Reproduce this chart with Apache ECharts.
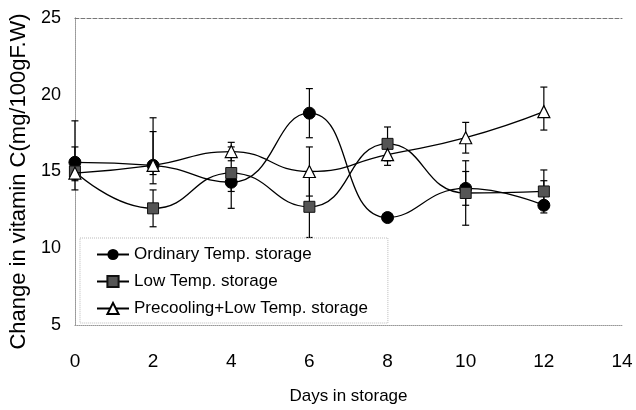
<!DOCTYPE html>
<html>
  <head>
    <meta charset="utf-8" />
    <title>Vitamin C</title>
    <script src="https://cdn.jsdelivr.net/npm/echarts@6/dist/echarts.min.js"></script>
    <style>
      html, body { margin: 0; padding: 0; background: #fff; }
    </style>
  </head>
  <body>
    <div id="main" style="width: 636px; height: 410px"></div>
    <script type="text/javascript">
      // values
      var days = [0, 2, 4, 6, 8, 10, 12];
      var ordinary = [15.6, 15.4, 14.3, 18.8, 12.0, 13.9, 12.8];
      var lowTemp = [15.0, 12.6, 14.9, 12.7, 16.8, 13.6, 13.7];
      var precool = [14.9, 15.4, 16.3, 15.0, 16.1, 17.2, 18.9];

      // error bar ends (low / high)
      var ordinaryLo = [14.4, 14.8, 13.7, 17.2, 11.8, 12.8, 12.6];
      var ordinaryHi = [16.6, 17.6, 14.9, 20.4, 12.2, 15.0, 14.4];
      var lowTempLo = [13.8, 11.4, 12.6, 10.7, 15.7, 11.5, 12.3];
      var lowTempHi = [18.3, 13.8, 16.6, 14.7, 17.9, 15.7, 15.1];
      var precoolLo = [14.5, 14.2, 15.7, 13.4, 15.4, 16.2, 17.7];
      var precoolHi = [15.4, 18.5, 16.9, 16.6, 16.8, 18.2, 20.5];

      var names = [
        "Ordinary Temp. storage",
        "Low Temp. storage",
        "Precooling+Low Temp. storage",
      ];
      var xTicks = [0, 14, 2];
      var yTicks = [5, 25, 5];

      function pairs(ys) {
        return days.map(function (d, i) {
          return [d, ys[i]];
        });
      }
      function bars(lo, hi) {
        return days.map(function (d, i) {
          return [d, lo[i], hi[i]];
        });
      }

      function renderErr(params, api) {
        var x = api.value(0);
        var a = api.coord([x, api.value(1)]);
        var b = api.coord([x, api.value(2)]);
        var w = 3.5;
        var st = { stroke: "#000", lineWidth: 1.2 };
        return {
          type: "group",
          children: [
            { type: "line", shape: { x1: a[0], y1: a[1], x2: b[0], y2: b[1] }, style: st },
            { type: "line", shape: { x1: a[0] - w, y1: a[1], x2: a[0] + w, y2: a[1] }, style: st },
            { type: "line", shape: { x1: b[0] - w, y1: b[1], x2: b[0] + w, y2: b[1] }, style: st },
          ],
        };
      }

      var myChart = echarts.init(document.getElementById("main"));

      var border = { show: true, lineStyle: { color: "#999", type: "dotted", width: 1 } };

      option = {
        animation: false,
        textStyle: { fontFamily: "Liberation Sans", color: "#000" },
        grid: { left: 69, right: 14, top: 18, bottom: 83 },
        legend: {
          orient: "vertical",
          left: 80,
          top: 238,
          padding: [8, 20, 6, 16],
          itemGap: 10,
          itemWidth: 32,
          itemHeight: 14,
          borderColor: "#bbb",
          borderWidth: 1,
          borderType: "dotted",
          data: names,
          textStyle: { fontSize: 17, color: "#000" },
        },
        xAxis: [
          {
            type: "value",
            min: xTicks[0],
            max: xTicks[1],
            interval: xTicks[2],
            name: "Days in storage",
            nameLocation: "middle",
            nameGap: 63,
            nameTextStyle: { fontSize: 17, color: "#000" },
            axisLine: border,
            axisTick: { show: false },
            splitLine: { show: false },
            axisLabel: { fontSize: 19, color: "#000", margin: 27 },
          },
          {
            type: "value",
            position: "top",
            min: xTicks[0],
            max: xTicks[1],
            axisLine: { show: true, lineStyle: { color: "#777", type: "dashed", width: 1 } },
            axisTick: { show: false },
            splitLine: { show: false },
            axisLabel: { show: false },
          },
        ],
        yAxis: [
          {
            type: "value",
            min: yTicks[0],
            max: yTicks[1],
            interval: yTicks[2],
            name: "Change in vitamin C(mg/100gF.W)",
            nameLocation: "middle",
            nameGap: 37,
            nameTextStyle: { fontSize: 22, color: "#000", padding: [0, 20, 0, 0] },
            axisLine: border,
            axisTick: { show: false },
            splitLine: { show: false },
            axisLabel: { fontSize: 18, color: "#000", margin: 14 },
          },
          {
            type: "value",
            position: "right",
            min: yTicks[0],
            max: yTicks[1],
            axisLine: border,
            axisTick: { show: false },
            splitLine: { show: false },
            axisLabel: { show: false },
          },
        ],
        series: [
          { type: "custom", renderItem: renderErr, data: bars(ordinaryLo, ordinaryHi), z: 1, silent: true },
          { type: "custom", renderItem: renderErr, data: bars(lowTempLo, lowTempHi), z: 1, silent: true },
          { type: "custom", renderItem: renderErr, data: bars(precoolLo, precoolHi), z: 1, silent: true },
          {
            name: names[0],
            type: "line",
            smooth: 0.5,
            data: pairs(ordinary),
            symbol: "circle",
            symbolSize: 12,
            lineStyle: { color: "#000", width: 1.3 },
            itemStyle: { color: "#000", borderColor: "#000" },
            z: 3,
          },
          {
            name: names[1],
            type: "line",
            smooth: 0.5,
            data: pairs(lowTemp),
            symbol: "rect",
            symbolSize: 11,
            lineStyle: { color: "#000", width: 1.3 },
            itemStyle: { color: "#555", borderColor: "#111", borderWidth: 1 },
            z: 3,
          },
          {
            name: names[2],
            type: "line",
            smooth: 0.5,
            data: pairs(precool),
            symbol: "triangle",
            symbolSize: 12,
            lineStyle: { color: "#000", width: 1.3 },
            itemStyle: { color: "#fff", borderColor: "#000", borderWidth: 1.2 },
            z: 4,
          },
        ],
      };
      myChart.setOption(option);
    </script>
  </body>
</html>
